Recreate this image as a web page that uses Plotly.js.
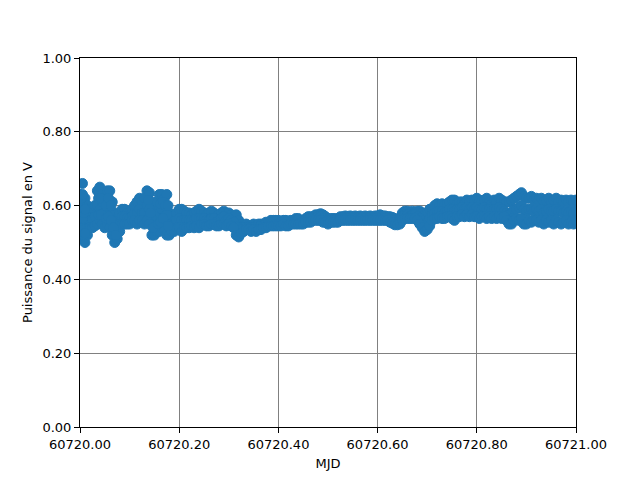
<!DOCTYPE html>
<html>
<head>
<meta charset="utf-8">
<script src="https://cdn.plot.ly/plotly-3.0.1.min.js"></script>
<style>html,body{margin:0;padding:0;background:#fff;}#chart{width:640px;height:480px;}</style>
</head>
<body>
<div id="chart"></div>
<script>
// MJD sample times
var mjd = [
60720.000,60720.005,60720.010,60720.015,60720.020,60720.025,60720.030,60720.035,60720.040,60720.045,
60720.050,60720.055,60720.060,60720.065,60720.070,60720.075,60720.080,60720.085,60720.090,60720.095,
60720.100,60720.105,60720.110,60720.115,60720.120,60720.125,60720.130,60720.135,60720.140,60720.145,
60720.150,60720.155,60720.160,60720.165,60720.170,60720.175,60720.180,60720.185,60720.190,60720.195,
60720.200,60720.205,60720.210,60720.215,60720.220,60720.225,60720.230,60720.235,60720.240,60720.245,
60720.250,60720.255,60720.260,60720.265,60720.270,60720.275,60720.280,60720.285,60720.290,60720.295,
60720.300,60720.305,60720.310,60720.315,60720.320,60720.325,60720.330,60720.335,60720.340,60720.345,
60720.350,60720.355,60720.360,60720.365,60720.370,60720.375,60720.380,60720.385,60720.390,60720.395,
60720.400,60720.405,60720.410,60720.415,60720.420,60720.425,60720.430,60720.435,60720.440,60720.445,
60720.450,60720.455,60720.460,60720.465,60720.470,60720.475,60720.480,60720.485,60720.490,60720.495,
60720.500,60720.505,60720.510,60720.515,60720.520,60720.525,60720.530,60720.535,60720.540,60720.545,
60720.550,60720.555,60720.560,60720.565,60720.570,60720.575,60720.580,60720.585,60720.590,60720.595,
60720.600,60720.605,60720.610,60720.615,60720.620,60720.625,60720.630,60720.635,60720.640,60720.645,
60720.650,60720.655,60720.660,60720.665,60720.670,60720.675,60720.680,60720.685,60720.690,60720.695,
60720.700,60720.705,60720.710,60720.715,60720.720,60720.725,60720.730,60720.735,60720.740,60720.745,
60720.750,60720.755,60720.760,60720.765,60720.770,60720.775,60720.780,60720.785,60720.790,60720.795,
60720.800,60720.805,60720.810,60720.815,60720.820,60720.825,60720.830,60720.835,60720.840,60720.845,
60720.850,60720.855,60720.860,60720.865,60720.870,60720.875,60720.880,60720.885,60720.890,60720.895,
60720.900,60720.905,60720.910,60720.915,60720.920,60720.925,60720.930,60720.935,60720.940,60720.945,
60720.950,60720.955,60720.960,60720.965,60720.970,60720.975,60720.980,60720.985,60720.990,60720.995,
60721.000];

// Signal readings (V) - upper, middle and lower samples at each time
var signalHigh = [
0.63,0.66,0.62,0.60,0.59,0.58,0.60,0.64,0.65,0.63,
0.62,0.64,0.64,0.61,0.58,0.57,0.58,0.59,0.59,0.58,
0.58,0.59,0.60,0.61,0.62,0.61,0.62,0.64,0.635,0.61,
0.60,0.61,0.63,0.63,0.62,0.63,0.58,0.57,0.57,0.58,
0.59,0.59,0.585,0.58,0.58,0.575,0.58,0.585,0.59,0.585,
0.58,0.575,0.58,0.585,0.58,0.57,0.575,0.58,0.585,0.575,
0.58,0.575,0.57,0.575,0.56,0.55,0.545,0.55,0.545,0.545,
0.55,0.545,0.55,0.55,0.55,0.555,0.555,0.56,0.56,0.56,
0.56,0.555,0.56,0.56,0.555,0.56,0.56,0.565,0.565,0.56,
0.56,0.565,0.57,0.57,0.57,0.575,0.575,0.578,0.575,0.57,
0.565,0.565,0.565,0.565,0.565,0.57,0.57,0.572,0.57,0.572,
0.57,0.572,0.57,0.572,0.57,0.572,0.57,0.572,0.57,0.572,
0.572,0.575,0.572,0.572,0.57,0.57,0.568,0.565,0.562,0.565,
0.58,0.585,0.585,0.58,0.585,0.58,0.585,0.585,0.58,0.575,
0.575,0.59,0.59,0.60,0.605,0.60,0.605,0.60,0.605,0.61,
0.615,0.615,0.605,0.61,0.61,0.605,0.615,0.61,0.615,0.61,
0.62,0.615,0.61,0.615,0.62,0.61,0.605,0.615,0.61,0.62,
0.615,0.61,0.61,0.61,0.615,0.62,0.625,0.63,0.635,0.625,
0.62,0.62,0.625,0.615,0.62,0.615,0.62,0.61,0.615,0.62,
0.61,0.615,0.62,0.61,0.615,0.61,0.615,0.61,0.615,0.61,
0.615];

var signalMid = [
0.57,0.60,0.55,0.57,0.56,0.56,0.57,0.60,0.59,0.61,
0.58,0.60,0.58,0.56,0.54,0.53,0.55,0.57,0.57,0.565,
0.565,0.57,0.58,0.58,0.59,0.58,0.58,0.60,0.59,0.56,
0.56,0.57,0.58,0.59,0.57,0.575,0.55,0.55,0.55,0.56,
0.565,0.56,0.56,0.56,0.56,0.56,0.56,0.565,0.565,0.565,
0.565,0.56,0.56,0.565,0.565,0.555,0.56,0.565,0.57,0.56,
0.565,0.56,0.555,0.545,0.54,0.54,0.54,0.54,0.54,0.54,
0.54,0.54,0.54,0.545,0.545,0.55,0.55,0.55,0.555,0.55,
0.55,0.55,0.555,0.555,0.55,0.555,0.555,0.555,0.56,0.555,
0.555,0.56,0.56,0.565,0.565,0.565,0.57,0.57,0.565,0.56,
0.56,0.56,0.56,0.56,0.56,0.565,0.565,0.565,0.565,0.565,
0.565,0.566,0.565,0.565,0.566,0.565,0.565,0.566,0.565,0.565,
0.566,0.566,0.565,0.566,0.565,0.562,0.56,0.555,0.555,0.556,
0.57,0.575,0.575,0.57,0.575,0.575,0.57,0.565,0.56,0.55,
0.555,0.565,0.575,0.58,0.585,0.585,0.585,0.58,0.585,0.59,
0.59,0.585,0.59,0.59,0.595,0.59,0.595,0.59,0.595,0.59,
0.595,0.59,0.59,0.595,0.59,0.59,0.585,0.59,0.59,0.595,
0.59,0.585,0.58,0.575,0.58,0.59,0.59,0.595,0.60,0.59,
0.585,0.59,0.59,0.585,0.59,0.585,0.59,0.58,0.585,0.59,
0.585,0.585,0.59,0.585,0.585,0.58,0.585,0.58,0.585,0.58,
0.585];

var signalLow = [
0.51,0.53,0.50,0.52,0.54,0.54,0.545,0.55,0.56,0.55,
0.54,0.55,0.54,0.52,0.50,0.51,0.53,0.55,0.55,0.55,
0.55,0.56,0.56,0.55,0.56,0.56,0.55,0.56,0.55,0.52,
0.52,0.53,0.53,0.54,0.54,0.52,0.52,0.53,0.53,0.54,
0.54,0.53,0.54,0.54,0.54,0.545,0.54,0.545,0.54,0.55,
0.55,0.545,0.545,0.55,0.55,0.545,0.545,0.55,0.55,0.545,
0.55,0.545,0.54,0.52,0.515,0.525,0.53,0.535,0.535,0.53,
0.535,0.53,0.535,0.535,0.54,0.54,0.545,0.545,0.545,0.545,
0.545,0.545,0.55,0.545,0.545,0.55,0.55,0.55,0.55,0.55,
0.55,0.555,0.555,0.555,0.56,0.56,0.56,0.56,0.555,0.555,
0.55,0.555,0.555,0.555,0.555,0.56,0.56,0.56,0.56,0.56,
0.56,0.56,0.56,0.56,0.56,0.56,0.56,0.56,0.56,0.56,
0.56,0.56,0.56,0.56,0.56,0.555,0.552,0.548,0.548,0.55,
0.56,0.565,0.565,0.565,0.565,0.565,0.56,0.55,0.54,0.53,
0.535,0.545,0.56,0.565,0.565,0.57,0.565,0.565,0.57,0.57,
0.565,0.56,0.57,0.57,0.575,0.57,0.575,0.57,0.575,0.57,
0.57,0.565,0.57,0.57,0.565,0.57,0.565,0.57,0.565,0.57,
0.565,0.57,0.56,0.55,0.55,0.56,0.565,0.56,0.565,0.55,
0.55,0.56,0.555,0.56,0.56,0.555,0.56,0.55,0.56,0.555,
0.56,0.55,0.56,0.555,0.55,0.555,0.56,0.55,0.555,0.55,
0.56];

// Additional readings in the noisiest stretches
var extraMjd = [
60720.000,60720.000,60720.0025,60720.0025,60720.005,60720.005,60720.0075,60720.0075,60720.010,60720.010,
60720.0375,60720.0375,60720.0425,60720.0425,60720.0525,60720.0525,60720.0575,60720.0575,60720.0625,60720.0625,
60720.0675,60720.0725,60720.1375,60720.1425,60720.1475,60720.1575,60720.1625,60720.1625,60720.1675,60720.1675,
60720.1725,60720.1775,60720.1775];
var extraSignal = [
0.60,0.54,0.62,0.56,0.63,0.565,0.58,0.52,0.59,0.525,
0.62,0.575,0.62,0.575,0.60,0.565,0.62,0.57,0.60,0.56,
0.54,0.52,0.615,0.58,0.54,0.55,0.605,0.555,0.61,0.565,
0.60,0.60,0.545];

var allX = mjd.concat(mjd, mjd, extraMjd);
var allY = signalHigh.concat(signalMid, signalLow, extraSignal);

var trace = {
  x: allX, y: allY, type: 'scatter', mode: 'markers',
  marker: {color: '#1f77b4', size: 10, line: {color: '#1f77b4', width: 1}},
  hoverinfo: 'x+y', showlegend: false
};

var font = {family: 'DejaVu Sans, sans-serif', size: 13, color: '#000'};
var layout = {
  width: 640, height: 480,
  margin: {l: 80, r: 64, t: 58, b: 53, pad: 0},
  paper_bgcolor: '#fff', plot_bgcolor: '#fff',
  font: font,
  showlegend: false,
  xaxis: {
    range: [60720, 60721], dtick: 0.2, tick0: 60720, tickformat: '.2f',
    showgrid: true, gridcolor: '#808080', gridwidth: 1,
    showline: true, linecolor: '#000', linewidth: 1, mirror: true,
    ticks: 'outside', ticklen: 5, tickcolor: '#000', tickfont: font,
    zeroline: false,
    title: {text: 'MJD', font: font, standoff: 8}
  },
  yaxis: {
    range: [0, 1], dtick: 0.2, tick0: 0, tickformat: '.2f',
    showgrid: true, gridcolor: '#808080', gridwidth: 1,
    showline: true, linecolor: '#000', linewidth: 1, mirror: true,
    ticks: 'outside', ticklen: 5, tickcolor: '#000', tickfont: font,
    zeroline: false,
    title: {text: 'Puissance du signal en V', font: font, standoff: 6}
  }
};

Plotly.newPlot('chart', [trace], layout, {displayModeBar: false, staticPlot: true});
</script>
</body>
</html>
